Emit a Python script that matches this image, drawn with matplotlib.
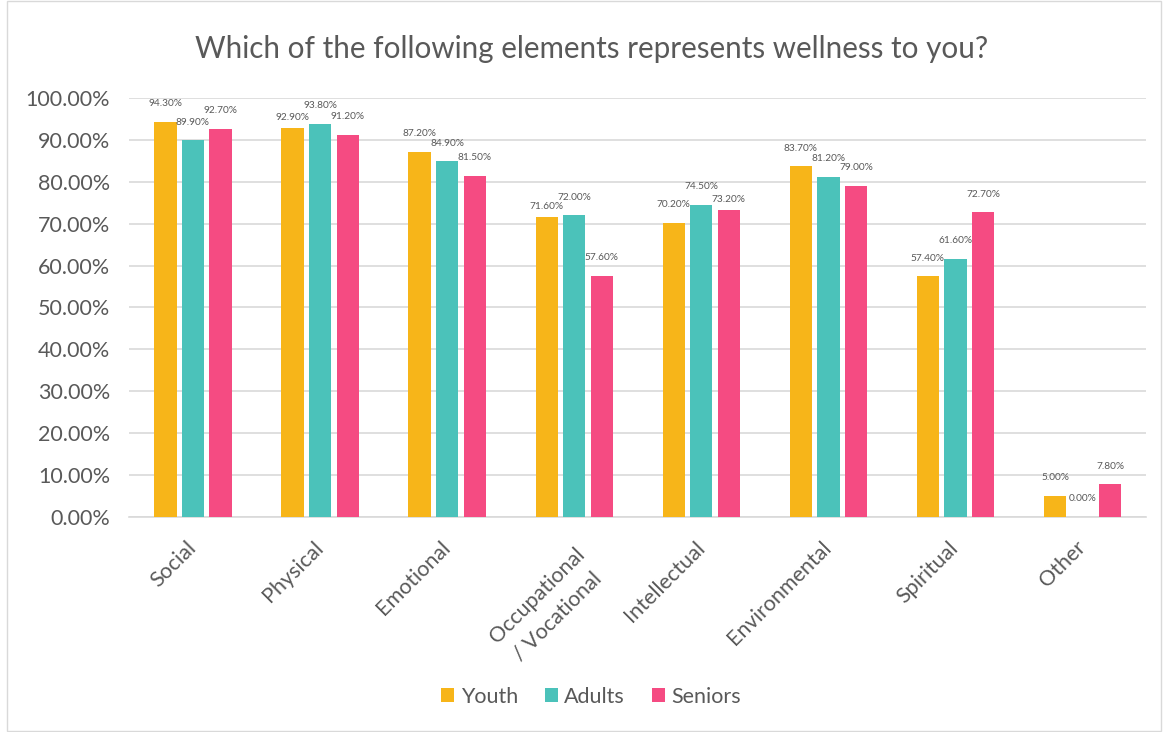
import numpy as np
import matplotlib.pyplot as plt
from matplotlib.patches import Rectangle
from matplotlib.ticker import FuncFormatter

plt.rcParams['font.family'] = ['Lato', 'DejaVu Sans']

categories = ['Social', 'Physical', 'Emotional', 'Occupational\n/ Vocational',
              'Intellectual', 'Environmental', 'Spiritual', 'Other']
youth = [94.3, 92.9, 87.2, 71.6, 70.2, 83.7, 57.4, 5.0]
adults = [89.9, 93.8, 84.9, 72.0, 74.5, 81.2, 61.6, 0.0]
seniors = [92.7, 91.2, 81.5, 57.6, 73.2, 79.0, 72.7, 7.8]

series = [('Youth', youth, '#F7B519'),
          ('Adults', adults, '#4BC2BA'),
          ('Seniors', seniors, '#F54B82')]

fig = plt.figure(figsize=(11.66, 7.32), dpi=100)
ax = fig.add_axes([0.111, 0.294, 0.872, 0.572])

x = np.arange(len(categories))
width = 0.175
step = 0.217
text_col = '#595959'

# label offsets (points above bar top); a label that would collide with a
# higher neighbour gets pushed closer to its bar, like Excel does
vals_all = np.array([s[1] for s in series])
offsets = np.full(vals_all.shape, 13.0)
for k in range(len(categories)):
    for j in range(len(series) - 1):
        a, b = vals_all[j, k], vals_all[j + 1, k]
        if abs(a - b) < 2.0:
            offsets[j if a < b else j + 1, k] = 7.5

for i, (name, vals, col) in enumerate(series):
    pos = x + (i - 1) * step
    bars = ax.bar(pos, vals, width, color=col, label=name, zorder=3)
    for k, (b, v) in enumerate(zip(bars, vals)):
        ax.annotate(f'{v:.2f}%', (b.get_x() + b.get_width() / 2, v),
                    xytext=(0, offsets[i, k]), textcoords='offset points',
                    ha='center', va='center', fontsize=7.3, color=text_col, zorder=4)

ax.set_xlim(-0.5, len(categories) - 0.5)
ax.set_ylim(0, 100)
ax.set_yticks(np.arange(0, 101, 10))
ax.yaxis.set_major_formatter(FuncFormatter(lambda v, p: f'{v:.2f}%'))
ax.grid(axis='y', color='#D9D9D9', linewidth=1.2, zorder=0)
ax.set_axisbelow(True)
for s in ['top', 'right', 'left']:
    ax.spines[s].set_visible(False)
ax.spines['bottom'].set_color('#D9D9D9')
ax.spines['bottom'].set_linewidth(1.2)
ax.tick_params(axis='both', length=0, colors=text_col, labelsize=15.5)
ax.tick_params(axis='y', pad=14)
ax.tick_params(axis='x', pad=20)
ax.set_xticks(x)
ax.set_xticklabels(categories, rotation=45, ha='right', va='center',
                   rotation_mode='anchor', multialignment='center',
                   fontsize=15.5, color=text_col, linespacing=1.55)
# two-line label: first line's end sits at the tick
for lbl in ax.get_xticklabels():
    if '\n' in lbl.get_text():
        lbl.set_va('top')

fig.suptitle('Which of the following elements represents wellness to you?',
             x=0.507, y=0.952, fontsize=21.3, color=text_col)

leg = fig.legend(loc='center', bbox_to_anchor=(0.507, 0.048), ncol=3, frameon=False,
                 fontsize=15.5, handlelength=0.6, handleheight=0.6,
                 handletextpad=0.3, columnspacing=1.25)
for t in leg.get_texts():
    t.set_color(text_col)

fig.patches.append(Rectangle((0.006, 0.002), 0.99, 0.996, transform=fig.transFigure,
                             fill=False, edgecolor='#D9D9D9', linewidth=1))

fig.savefig('out.png', dpi=100)
